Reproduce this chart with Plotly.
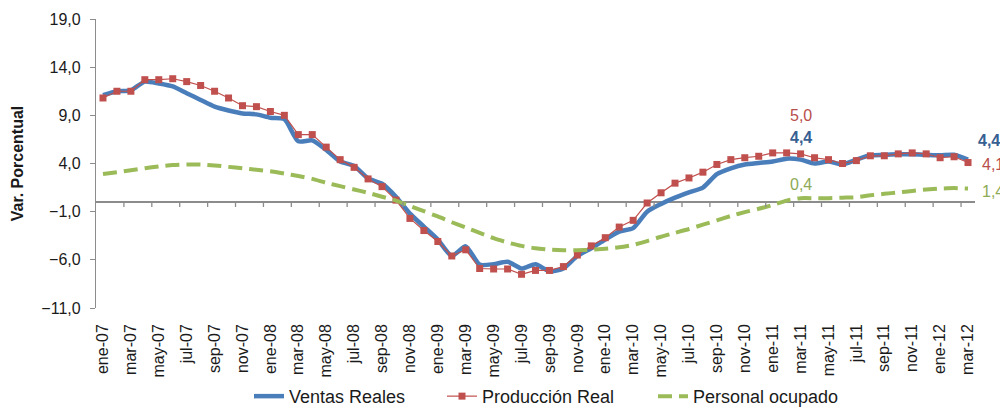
import plotly.graph_objects as go

months = ["ene", "feb", "mar", "abr", "may", "jun", "jul", "ago", "sep", "oct", "nov", "dic"]
categories = [f"{m}-{y:02d}" for y in range(7, 13) for m in months][:63]

ventas = [11.1, 11.5, 11.6, 12.5, 12.3, 12.0, 11.3, 10.6, 9.9, 9.5, 9.2, 9.1, 8.75, 8.6,
          6.3, 6.4, 5.4, 4.2, 3.75, 2.45, 1.9, 0.55, -1.2, -2.55, -3.9, -5.6, -4.6, -6.5,
          -6.45, -6.2, -6.9, -6.45, -7.2, -6.9, -5.6, -4.8, -3.9, -3.07, -2.7, -1.0, -0.2,
          0.45, 1.0, 1.5, 2.9, 3.5, 3.9, 4.06, 4.2, 4.5, 4.4, 4.0, 4.2, 3.9, 4.4, 4.85,
          4.9, 4.95, 4.95, 4.9, 4.85, 4.9, 4.4]
produccion = [10.8, 11.5, 11.5, 12.7, 12.7, 12.8, 12.5, 12.1, 11.5, 10.8, 10.0, 9.9, 9.4, 9.0,
              7.0, 7.0, 5.7, 4.4, 3.6, 2.4, 1.6, 0.2, -1.7, -2.96, -4.1, -5.6, -4.96, -6.9,
              -6.95, -6.95, -7.5, -7.1, -7.1, -6.7, -5.5, -4.55, -3.7, -2.6, -1.9, -0.1, 0.96,
              1.96, 2.5, 3.1, 3.9, 4.4, 4.6, 4.75, 5.1, 5.1, 5.0, 4.6, 4.4, 4.0, 4.3, 4.8,
              4.8, 5.0, 5.1, 5.0, 4.6, 4.7, 4.1]
personal = [2.9, 3.1, 3.3, 3.5, 3.7, 3.85, 3.9, 3.9, 3.8, 3.65, 3.5, 3.35, 3.2, 2.95,
            2.7, 2.4, 2.0, 1.65, 1.3, 0.95, 0.55, 0.15, -0.4, -0.95, -1.5, -2.1, -2.65, -3.2,
            -3.75, -4.2, -4.55, -4.8, -4.95, -5.0, -5.0, -4.95, -4.85, -4.7, -4.45, -4.05, -3.6,
            -3.2, -2.8, -2.35, -1.9, -1.45, -1.05, -0.7, -0.3, 0.15, 0.4, 0.4, 0.4, 0.45, 0.5,
            0.7, 0.85, 1.0, 1.15, 1.3, 1.4, 1.45, 1.4]
ytick_vals = [-11, -6, -1, 4, 9, 14, 19]

FONT = "Liberation Sans, Arial, sans-serif"
BLUE = "#4A7EBB"
RED = "#C0504D"
GREEN = "#9BBB59"
AXIS = "#8C8C8C"

x = list(range(len(categories)))

fig = go.Figure()
fig.add_trace(go.Scatter(x=x, y=ventas, name="Ventas Reales", mode="lines", legendwidth=148,
                         line=dict(color=BLUE, width=4.5, shape="spline", smoothing=0.6)))
fig.add_trace(go.Scatter(x=x, y=produccion, name="Producción Real", mode="lines+markers",
                         legendwidth=166,
                         line=dict(color=RED, width=1.2),
                         marker=dict(symbol="square", size=7, color=RED)))
fig.add_trace(go.Scatter(x=x, y=personal, name="Personal ocupado", mode="lines", legendwidth=150,
                         line=dict(color=GREEN, width=4, dash="14px,7px", shape="spline",
                                   smoothing=0.6)))

# tick marks on the zero axis line at category boundaries (every 2 months)
shapes = []
for k in range(2, len(categories), 2):
    shapes.append(dict(type="line", xref="x", yref="y", x0=k - 0.5, x1=k - 0.5,
                       ysizemode="pixel", yanchor=0, y0=0, y1=-5,
                       line=dict(color=AXIS, width=1.3)))

def fmt(v):
    return f"{v:.1f}".replace(".", ",")

i_mar11 = categories.index("mar-11")
i_last = len(categories) - 1
annotations = [
    dict(x=i_mar11, y=produccion[i_mar11], text=fmt(produccion[i_mar11]), showarrow=False,
         yshift=38, font=dict(color="#B84E4B", size=16, family=FONT)),
    dict(x=i_mar11, y=ventas[i_mar11], text="<b>" + fmt(ventas[i_mar11]) + "</b>", showarrow=False,
         yshift=22, font=dict(color="#376092", size=16, family=FONT)),
    dict(x=i_mar11, y=personal[i_mar11], text=fmt(personal[i_mar11]), showarrow=False,
         yshift=14, font=dict(color="#8EAA55", size=16, family=FONT)),
    dict(x=i_last, y=ventas[i_last], text="<b>" + fmt(ventas[i_last]) + "</b>", showarrow=False,
         xshift=21, yshift=19, font=dict(color="#376092", size=16, family=FONT)),
    dict(x=i_last, y=produccion[i_last], text=fmt(produccion[i_last]), showarrow=False,
         xshift=25, yshift=-2, font=dict(color="#B84E4B", size=16, family=FONT)),
    dict(x=i_last, y=personal[i_last], text=fmt(personal[i_last]), showarrow=False,
         xshift=25, yshift=-3, font=dict(color="#8EAA55", size=16, family=FONT)),
]

# the page adds an 8px body margin, so the figure is 1000x400 with margins reduced accordingly
fig.update_layout(
    width=1000, height=400,
    margin=dict(l=88, r=33, t=11, b=100, autoexpand=False),
    paper_bgcolor="white", plot_bgcolor="white",
    separators=",.",
    font=dict(family=FONT, color="#1a1a1a"),
    showlegend=True,
    legend=dict(orientation="h", x=(249 - 96) / 879, xanchor="left", y=-0.306, yanchor="middle",
                font=dict(size=18, family=FONT), bgcolor="rgba(0,0,0,0)"),
    shapes=shapes,
    annotations=annotations,
    xaxis=dict(range=[-0.5, len(categories) - 0.5], automargin=False,
               tickvals=x[::2], ticktext=categories[::2], tickangle=-90,
               tickfont=dict(size=16, family=FONT), ticks="", showline=False,
               ticklabelstandoff=12,
               showgrid=False, zeroline=False),
    yaxis=dict(range=[-11, 19], tickvals=ytick_vals, tickformat=".1f", automargin=False,
               tickfont=dict(size=16, family=FONT), ticks="outside", ticklen=5,
               tickcolor=AXIS, tickwidth=1.3, showline=True, linecolor=AXIS, linewidth=1.3,
               showgrid=False, zeroline=True, zerolinecolor=AXIS, zerolinewidth=1.5,
               ticklabelstandoff=6,
               title=dict(text="<b>Var. Porcentual</b>", font=dict(size=16, family=FONT),
                          standoff=13)),
)

fig.write_html("out.html")
